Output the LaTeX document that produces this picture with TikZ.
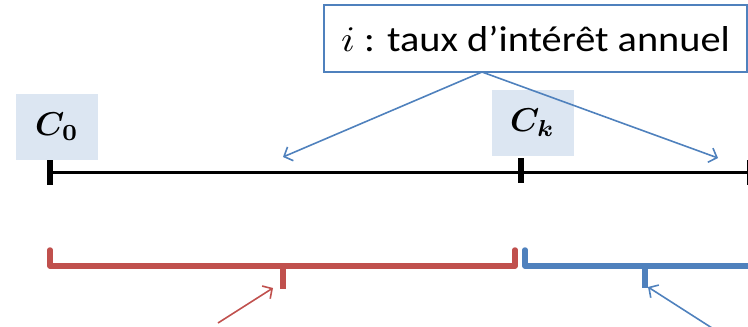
\documentclass[tikz,border=0pt]{standalone}
\usepackage{bm}
\usepackage{graphicx}
\usepackage{fontspec}
\setmainfont{Carlito}
\usetikzlibrary{arrows.meta}
\definecolor{myblue}{HTML}{4F81BD}
\definecolor{myred}{HTML}{C0504D}
\definecolor{lblue}{HTML}{DCE6F2}
\newcommand{\bigmath}[2]{{\fontsize{10}{12}\selectfont\scalebox{#1}{$#2$}}}
\tikzset{
  lab/.style={fill=lblue,inner sep=0pt,minimum width=82pt,minimum height=66pt},
  barb/.style={-{Straight Barb[length=7pt,width=15pt,line width=1.6pt]}},
  bracketred/.style={myred,line width=5.5pt,line cap=round,line join=round},
  bracketblue/.style={myblue,line width=5.5pt,line cap=round,line join=round},
  tickmark/.style={line width=6pt}}
\begin{document}
\begin{tikzpicture}[x=1pt,y=-1pt]
\useasboundingbox (0,0) rectangle (748,327);
\node[draw=myblue,line width=1.3pt,minimum width=423pt,minimum height=67pt,inner sep=0pt,font=\fontsize{36}{40}\selectfont] (box) at (535.5,38.5) {\scalebox{1.12}[1]{\bigmath{3.6}{i} : taux d’intérêt annuel}\hspace{6pt}};
\node[lab] (c0) at (57,126.5) {\raisebox{-5pt}{\bigmath{3.3}{\bm{C_0}}}\hspace{8pt}};
\node[lab] (ck) at (532.5,123) {\raisebox{-5pt}{\bigmath{3.3}{\bm{C_k}}}\hspace{8pt}};
\coordinate (t0) at (50,172);
\coordinate (tend) at (748,172);
\draw[line width=3pt] (t0) -- (tend);
\coordinate (k0a) at (50,160); \coordinate (k0b) at (50,185);
\coordinate (kka) at (521,158); \coordinate (kkb) at (521,183);
\draw[tickmark] (k0a) -- (k0b);
\draw[tickmark] (kka) -- (kkb);
\coordinate (kea) at (748,160); \coordinate (keb) at (748,185);
\draw[line width=3pt] (kea) -- (keb);
\coordinate (bo) at (482,72);
\coordinate (al) at (283,157);
\coordinate (ar) at (718,158);
\draw[myblue,line width=1.6pt,barb] (bo) -- (al);
\draw[myblue,line width=1.6pt,barb] (bo) -- (ar);
\coordinate (r1) at (50,250); \coordinate (r2) at (50,266);
\coordinate (r3) at (515,266); \coordinate (r4) at (515,250);
\coordinate (rm1) at (283,266); \coordinate (rm2) at (283,289);
\draw[bracketred] (r1) -- (r2) -- (r3) -- (r4);
\draw[bracketred,line cap=butt] (rm1) -- (rm2);
\coordinate (b1) at (525,250); \coordinate (b2) at (525,266);
\coordinate (b3) at (752,266);
\coordinate (bm1) at (645,266); \coordinate (bm2) at (645,288);
\draw[bracketblue] (b1) -- (b2) -- (b3);
\draw[bracketblue,line cap=butt] (bm1) -- (bm2);
\coordinate (ra0) at (218,323); \coordinate (ra1) at (273,288);
\draw[myred,line width=1.6pt,barb] (ra0) -- (ra1);
\coordinate (ba0) at (712,328); \coordinate (ba1) at (648,287);
\draw[myblue,line width=1.6pt,barb] (ba0) -- (ba1);
\end{tikzpicture}
\end{document}
